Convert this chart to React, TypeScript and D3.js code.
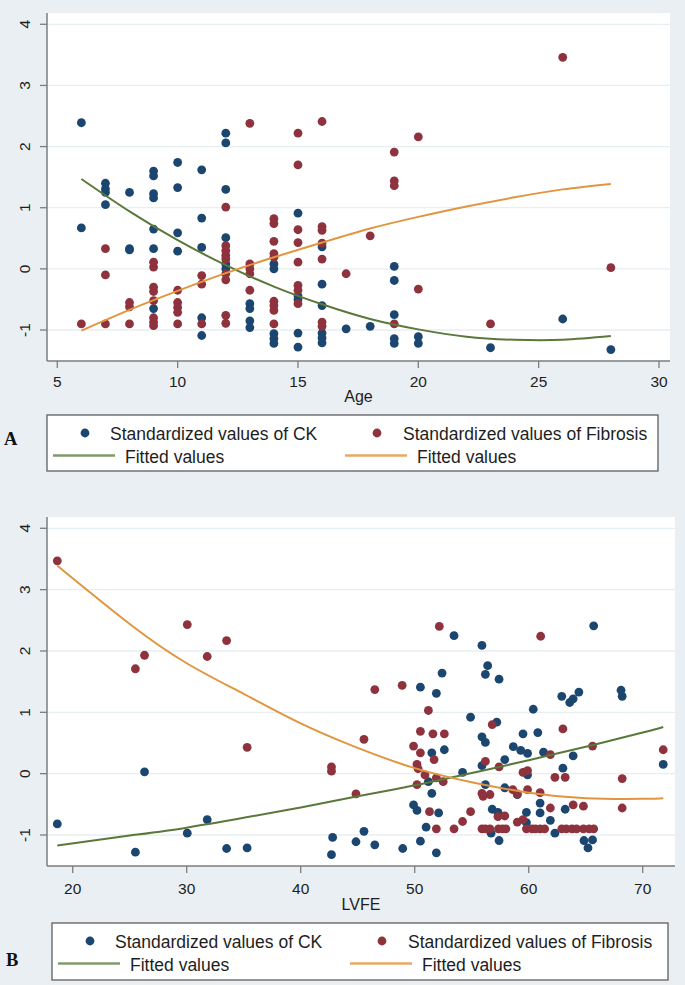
import React from "react";
import * as d3 from "d3";

type Pt = [number, number];

const yTicks = [-1, 0, 1, 2, 3, 4];
const ageTicks = [5, 10, 15, 20, 25, 30];
const lvfeTicks = [20, 30, 40, 50, 60, 70];

const legendLabels = [
  "Standardized values of CK",
  "Standardized values of Fibrosis",
  "Fitted values",
  "Fitted values",
];

// Panel A: standardized CK by age (age, values)
const ckByAgeGroups: [number, number[]][] = [
  [6, [2.39, 0.67]],
  [7, [1.4, 1.31, 1.25, 1.05]],
  [8, [1.25, 0.33, 0.31]],
  [9, [1.6, 1.52, 1.23, 1.16, 0.65, 0.33, -0.65]],
  [10, [1.74, 1.33, 0.59, 0.29]],
  [11, [1.62, 0.83, 0.35, -0.8, -1.09]],
  [12, [2.22, 2.06, 1.3, 0.51, 0.08, 0.0]],
  [13, [-0.57, -0.65, -0.85, -0.96]],
  [14, [0.08, 0.0, -1.06, -1.14, -1.22]],
  [15, [0.91, -0.44, -0.5, -1.05, -1.28]],
  [16, [0.36, -0.25, -0.6, -1.05, -1.13, -1.21]],
  [17, [-0.98]],
  [18, [-0.94]],
  [19, [0.04, -0.19, -0.75, -1.14, -1.22]],
  [20, [-1.11, -1.22]],
  [23, [-1.29]],
  [26, [-0.82]],
  [28, [-1.32]],
];

// Panel A: standardized fibrosis by age
const fibrosisByAgeGroups: [number, number[]][] = [
  [6, [-0.9]],
  [7, [0.33, -0.1, -0.9]],
  [8, [-0.55, -0.62, -0.9]],
  [9, [0.11, 0.03, -0.3, -0.37, -0.52, -0.8, -0.87, -0.93]],
  [10, [-0.35, -0.55, -0.63, -0.71, -0.9]],
  [11, [-0.11, -0.25, -0.9]],
  [12, [1.01, 0.38, 0.3, 0.22, 0.16, -0.08, -0.18, -0.76, -0.89]],
  [13, [2.38, 0.08, 0.0, -0.08, -0.35]],
  [14, [0.82, 0.74, 0.45, 0.25, 0.19, -0.53, -0.6, -0.68, -0.9]],
  [15, [2.22, 1.7, 0.64, 0.43, 0.11, -0.27, -0.35, -0.57]],
  [16, [2.41, 0.69, 0.63, 0.42, 0.16, -0.87, -0.94]],
  [17, [-0.08]],
  [18, [0.54]],
  [19, [1.91, 1.44, 1.36, -0.9]],
  [20, [2.16, -0.33]],
  [23, [-0.9]],
  [26, [3.46]],
  [28, [0.02]],
];

const fitCkByAge: Pt[] = [
  [6, 1.47], [8, 0.94], [10, 0.47], [12, 0.06], [14, -0.29], [16, -0.58],
  [18, -0.82], [20, -0.99], [22, -1.11], [24, -1.16], [26, -1.16], [28, -1.1],
];
const fitFibrosisByAge: Pt[] = [
  [6, -1.01], [8, -0.67], [10, -0.36], [12, -0.07], [14, 0.19], [16, 0.43],
  [18, 0.66], [20, 0.85], [22, 1.02], [24, 1.17], [26, 1.3], [28, 1.39],
];

// Panel B: standardized CK by LVFE
const ckByLvfe: Pt[] = [
  [18.65, -0.82], [26.3, 0.03], [25.5, -1.28], [30.05, -0.97], [31.8, -0.75],
  [33.5, -1.22], [35.3, -1.21], [42.8, -1.04], [42.7, -1.32], [45.55, -0.94],
  [44.85, -1.11], [46.5, -1.16], [48.95, -1.22], [50.5, -1.1], [50.5, 1.41],
  [49.9, -0.51], [50.2, -0.6], [51.0, -0.87], [51.2, -0.13], [51.5, -0.32],
  [51.5, 0.34], [52.1, -0.64], [51.9, -1.29], [52.4, 1.64], [51.9, 1.31],
  [53.45, 2.25], [55.9, 2.09], [65.7, 2.41], [56.4, 1.76], [56.2, 1.62],
  [57.4, 1.54], [62.9, 1.26], [63.6, 1.16], [63.9, 1.22], [64.4, 1.33],
  [68.1, 1.36], [68.2, 1.26], [60.4, 1.05], [54.9, 0.92], [57.2, 0.84],
  [55.9, 0.6], [56.2, 0.51], [59.5, 0.65], [60.8, 0.67], [58.65, 0.44],
  [59.3, 0.38], [59.9, 0.33], [61.3, 0.35], [63.9, 0.29], [71.8, 0.15],
  [52.6, 0.39], [55.9, 0.13], [57.9, 0.23], [54.2, 0.02], [59.9, -0.02],
  [63.0, 0.09], [56.2, -0.18], [57.9, -0.23], [59.0, -0.34], [61.0, -0.48],
  [61.0, -0.64], [63.2, -0.58], [56.8, -0.58], [57.3, -0.63], [59.8, -0.63],
  [59.8, -0.8], [61.9, -0.76], [56.7, -0.97], [62.3, -0.97], [57.4, -1.09],
  [64.85, -1.09], [65.6, -1.08], [65.2, -1.21],
];

// Panel B: standardized fibrosis by LVFE
const fibrosisByLvfe: Pt[] = [
  [18.65, 3.47], [25.5, 1.71], [26.3, 1.93], [30.05, 2.43], [31.8, 1.91],
  [33.5, 2.17], [35.3, 0.43], [42.7, 0.11], [42.7, 0.04], [45.55, 0.56],
  [44.85, -0.33], [46.5, 1.37], [48.9, 1.44], [52.16, 2.4], [61.05, 2.24],
  [51.2, 1.03], [50.5, 0.69], [51.6, 0.65], [52.6, 0.65], [56.8, 0.8],
  [63.0, 0.73], [49.9, 0.45], [50.5, 0.34], [51.7, 0.23], [50.2, 0.15],
  [50.3, 0.08], [50.9, -0.02], [51.9, -0.07], [50.2, -0.18], [52.5, -0.13],
  [56.2, 0.2], [57.4, 0.11], [59.5, 0.02], [59.9, 0.05], [61.9, 0.31],
  [65.6, 0.45], [71.8, 0.39], [62.3, -0.06], [63.2, -0.06], [68.2, -0.08],
  [55.9, -0.32], [56.6, -0.34], [56.0, -0.37], [58.6, -0.26], [59.0, -0.33],
  [59.9, -0.26], [61.0, -0.31], [61.9, -0.56], [63.9, -0.51], [64.8, -0.53],
  [68.2, -0.56], [54.9, -0.62], [51.3, -0.62], [57.3, -0.7], [57.9, -0.69],
  [54.2, -0.78], [59.0, -0.79], [59.5, -0.75],
  [51.9, -0.9], [53.45, -0.9], [55.9, -0.9], [56.2, -0.9], [56.6, -0.9],
  [57.35, -0.9], [57.7, -0.9], [58.0, -0.9], [59.8, -0.9], [60.3, -0.9],
  [60.6, -0.9], [61.0, -0.9], [61.4, -0.9], [62.9, -0.9], [63.3, -0.9],
  [63.8, -0.9], [64.2, -0.9], [64.8, -0.9], [65.3, -0.9], [65.7, -0.9],
];

const fitCkByLvfe: Pt[] = [
  [18.65, -1.17], [25, -1.01], [30, -0.88], [35, -0.72], [40, -0.55], [45, -0.37],
  [50, -0.19], [55, 0.01], [60, 0.22], [65, 0.44], [70, 0.67], [71.8, 0.76],
];
const fitFibrosisByLvfe: Pt[] = [
  [18.65, 3.39], [25, 2.44], [30, 1.8], [35, 1.3], [40, 0.82], [45, 0.42],
  [50, 0.09], [55, -0.14], [60, -0.31], [65, -0.4], [70, -0.41], [71.8, -0.4],
];

const flatten = (g: [number, number[]][]): Pt[] =>
  g.flatMap(([x, ys]) => ys.map((y) => [x, y] as Pt));

const C = {
  bg: "#e9eff2",
  grid: "#e7eef1",
  axis: "#7d7d7d",
  text: "#1e1e1e",
  ck: "#1b4670",
  fib: "#8e323d",
  fitCk: "#5a783a",
  fitFib: "#e2953f",
};
const FONT = "'Liberation Sans', Arial, sans-serif";

interface Cfg {
  left: number; right: number; top: number; bottom: number;
  xDomain: [number, number]; xRange: [number, number];
  yRange: [number, number];
  tickLabelY: number; titleY: number;
  legend: { x: number; y: number; w: number; h: number };
  letter: string; letterX: number; letterY: number;
}

function Panel(props: {
  cfg: Cfg; ck: Pt[]; fib: Pt[]; fitCk: Pt[]; fitFib: Pt[];
  xTicks: number[]; xTitle: string;
}) {
  const { cfg, ck, fib, fitCk, fitFib, xTicks, xTitle } = props;
  const x = d3.scaleLinear().domain(cfg.xDomain).range(cfg.xRange);
  const y = d3.scaleLinear().domain([-1, 4]).range(cfg.yRange);
  const line = d3
    .line<Pt>()
    .x((d) => x(d[0]))
    .y((d) => y(d[1]))
    .curve(d3.curveNatural);
  const L = cfg.legend;
  const r = 4.4;
  const midX = (cfg.left + cfg.right) / 2;
  return (
    <g>
      <rect x={cfg.left} y={cfg.top} width={cfg.right - cfg.left} height={cfg.bottom - cfg.top} fill="#fff" />
      {yTicks.map((t) => (
        <line key={"g" + t} x1={cfg.left} x2={cfg.right} y1={y(t)} y2={y(t)} stroke={C.grid} strokeWidth={1.3} />
      ))}
      {ck.map((d, i) => (
        <circle key={"c" + i} cx={x(d[0])} cy={y(d[1])} r={r} fill={C.ck} />
      ))}
      {fib.map((d, i) => (
        <circle key={"f" + i} cx={x(d[0])} cy={y(d[1])} r={r} fill={C.fib} />
      ))}
      <path d={line(fitCk) || ""} fill="none" stroke={C.fitCk} strokeWidth={2} />
      <path d={line(fitFib) || ""} fill="none" stroke={C.fitFib} strokeWidth={2} />
      {/* axes */}
      <line x1={cfg.left} x2={cfg.left} y1={cfg.top} y2={cfg.bottom} stroke={C.axis} strokeWidth={1.5} />
      <line x1={cfg.left} x2={cfg.right} y1={cfg.bottom} y2={cfg.bottom} stroke={C.axis} strokeWidth={1.5} />
      {yTicks.map((t) => (
        <g key={"y" + t}>
          <line x1={cfg.left - 7} x2={cfg.left} y1={y(t)} y2={y(t)} stroke={C.axis} strokeWidth={1.3} />
          <text
            transform={`translate(29.5,${y(t)}) rotate(-90)`}
            textAnchor="middle"
            fontFamily={FONT}
            fontSize={15.5}
            fill={C.text}
          >
            {t}
          </text>
        </g>
      ))}
      {xTicks.map((t) => (
        <g key={"x" + t}>
          <line x1={x(t)} x2={x(t)} y1={cfg.bottom} y2={cfg.bottom + 7} stroke={C.axis} strokeWidth={1.3} />
          <text x={x(t)} y={cfg.tickLabelY} textAnchor="middle" fontFamily={FONT} fontSize={15.5} fill={C.text}>
            {t}
          </text>
        </g>
      ))}
      <text x={midX} y={cfg.titleY} textAnchor="middle" fontFamily={FONT} fontSize={16} fill={C.text}>
        {xTitle}
      </text>
      {/* legend */}
      <rect x={L.x} y={L.y} width={L.w} height={L.h} fill="#fff" stroke="#6a6a6a" strokeWidth={1.4} />
      <circle cx={L.x + 38} cy={L.y + 18} r={r} fill={C.ck} />
      <text x={L.x + 63} y={L.y + 24.5} fontFamily={FONT} fontSize={17.5} fill={C.text}>
        {legendLabels[0]}
      </text>
      <circle cx={L.x + 330} cy={L.y + 18} r={r} fill={C.fib} />
      <text x={L.x + 356} y={L.y + 24.5} fontFamily={FONT} fontSize={17.5} fill={C.text}>
        {legendLabels[1]}
      </text>
      <line x1={L.x + 6} x2={L.x + 68} y1={L.y + 40.5} y2={L.y + 40.5} stroke={C.fitCk} strokeWidth={2.6} opacity={0.75} />
      <text x={L.x + 78} y={L.y + 47.5} fontFamily={FONT} fontSize={17.5} fill={C.text}>
        {legendLabels[2]}
      </text>
      <line x1={L.x + 298} x2={L.x + 360} y1={L.y + 40.5} y2={L.y + 40.5} stroke={C.fitFib} strokeWidth={2.6} opacity={0.8} />
      <text x={L.x + 370} y={L.y + 47.5} fontFamily={FONT} fontSize={17.5} fill={C.text}>
        {legendLabels[3]}
      </text>
      <text
        x={cfg.letterX}
        y={cfg.letterY}
        fontFamily="'Liberation Serif', 'Times New Roman', serif"
        fontWeight="bold"
        fontSize={18.5}
        fill="#111"
      >
        {cfg.letter}
      </text>
    </g>
  );
}

const cfgA: Cfg = {
  left: 47, right: 670, top: 13, bottom: 361,
  xDomain: [5, 30], xRange: [57.3, 659],
  yRange: [330, 24.3],
  tickLabelY: 386.5, titleY: 402,
  legend: { x: 47, y: 415, w: 611, h: 56 },
  letter: "A", letterX: 4, letterY: 444.5,
};
const cfgB: Cfg = {
  left: 47, right: 675, top: 517, bottom: 866,
  xDomain: [20, 70], xRange: [72.7, 642.7],
  yRange: [835, 528.3],
  tickLabelY: 894, titleY: 910,
  legend: { x: 52, y: 923, w: 616, h: 57 },
  letter: "B", letterX: 6, letterY: 966,
};

export default function App() {
  return (
    <div style={{ position: "absolute", left: 0, top: 0 }}>
      <svg width={685} height={985} style={{ display: "block" }}>
        <rect width={685} height={985} fill={C.bg} />
        <Panel
          cfg={cfgA}
          ck={flatten(ckByAgeGroups)}
          fib={flatten(fibrosisByAgeGroups)}
          fitCk={fitCkByAge}
          fitFib={fitFibrosisByAge}
          xTicks={ageTicks}
          xTitle="Age"
        />
        <Panel
          cfg={cfgB}
          ck={ckByLvfe}
          fib={fibrosisByLvfe}
          fitCk={fitCkByLvfe}
          fitFib={fitFibrosisByLvfe}
          xTicks={lvfeTicks}
          xTitle="LVFE"
        />
      </svg>
    </div>
  );
}
